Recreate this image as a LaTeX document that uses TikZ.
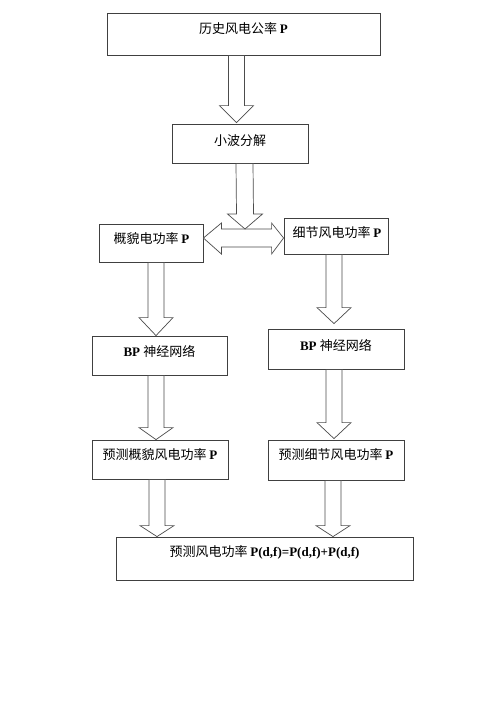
\documentclass[tikz,border=0pt]{standalone}
\usepackage{fontspec}
\setmainfont{Liberation Serif}
\newfontfamily\cjk{Noto Sans CJK SC}
\usetikzlibrary{calc}
\tikzset{
  box/.style={draw=black!75,line width=0.8pt,rectangle,inner sep=0pt},
  lbl/.style={font=\fontsize{13}{15}\selectfont,inner sep=0pt},
  blockarrow/.style={draw=black!70,line width=0.7pt,fill=white,line join=miter}
}
% block arrow pointing down: x, from node, to node, head length, gap
\newcommand{\blockdown}[5]{%
  \draw[blockarrow] ($(#1,0 |- #2.south)+(-8,0)$) -- ($(#1,0 |- #3.north)+(-8,-#4-#5)$)
    -- ++(-9,0) -- ($(#1,0 |- #3.north)+(0,-#5)$) -- ++(17,-#4) -- ++(-9,0)
    -- ($(#1,0 |- #2.south)+(8,0)$) -- cycle;}
\begin{document}
\begin{tikzpicture}[x=1pt,y=-1pt]
		\useasboundingbox (0,0) rectangle (500,707);
		% boxes
		\node[box,minimum width=273,minimum height=42] (hist) at (243.5,34) {};
		\node[box,minimum width=136,minimum height=39] (wave) at (240,143.5) {};
		\node[box,minimum width=104,minimum height=38] (coarse) at (151,243) {};
		\node[box,minimum width=104,minimum height=36] (detail) at (336,236) {};
		\node[box,minimum width=135,minimum height=39] (bpl) at (159.5,355.5) {};
		\node[box,minimum width=136,minimum height=40] (bpr) at (336,349) {};
		\node[box,minimum width=136,minimum height=39] (predl) at (160,459.5) {};
		\node[box,minimum width=136,minimum height=40] (predr) at (336,460) {};
		\node[box,minimum width=297,minimum height=43] (final) at (264.5,558.5) {};
		% texts
		\node[lbl] (histtxt) at (243.5,28.5) {\cjk 历史风电公率 \textbf{\rmfamily P}};
		\node[lbl] (wavetxt) at (240,140.5) {\cjk 小波分解};
		\node[lbl] (coarsetxt) at (151.5,239) {\cjk 概貌电功率 \textbf{\rmfamily P}};
		\node[lbl] (detailtxt) at (337,233) {\cjk 细节风电功率 \textbf{\rmfamily P}};
		\node[lbl] (bpltxt) at (159.5,351.5) {\textbf{BP} \cjk 神经网络};
		\node[lbl] (bprtxt) at (336,345) {\textbf{BP} \cjk 神经网络};
		\node[lbl] (predltxt) at (160,455) {\cjk 预测概貌风电功率 \textbf{\rmfamily P}};
		\node[lbl] (predrtxt) at (336,455) {\cjk 预测细节风电功率 \textbf{\rmfamily P}};
		\node[lbl] (finaltxt) at (264.5,552.5) {\cjk 预测风电功率 \textbf{\rmfamily P(d,f)=P(d,f)+P(d,f)}};
		% double arrow between the two parts
		\coordinate (split) at (245,229);
		\draw[blockarrow] (coarse.east |- 0,238) -- ++(18,-15) -- ++(0,6) -- ($(detail.west |- 0,229)+(-12,0)$)
			-- ++(0,-6) -- (detail.west |- 0,238) -- ++(-12,16) -- ++(0,-7) -- ($(coarse.east |- 0,247)+(18,0)$)
			-- ++(0,7) -- cycle;
		% arrows
		\blockdown{236.5}{hist}{wave}{17}{1}
		\draw[blockarrow] ($(244.5,0 |- wave.south)+(-8.5,0)$) -- ($(split)+(-8.5,-15)$) -- ++(-9,0)
			-- (split) -- ++(17.5,-15) -- ++(-9,0) -- ($(244.5,0 |- wave.south)+(8.5,0)$) -- cycle;
		\blockdown{156}{coarse}{bpl}{18}{0}
		\blockdown{334}{detail}{bpr}{16}{5}
		\blockdown{156}{bpl}{predl}{12}{0}
		\blockdown{334}{bpr}{predr}{16}{1}
		\blockdown{157}{predl}{final}{11}{0}
		\blockdown{333}{predr}{final}{11}{0}
	\end{tikzpicture}
\end{document}
